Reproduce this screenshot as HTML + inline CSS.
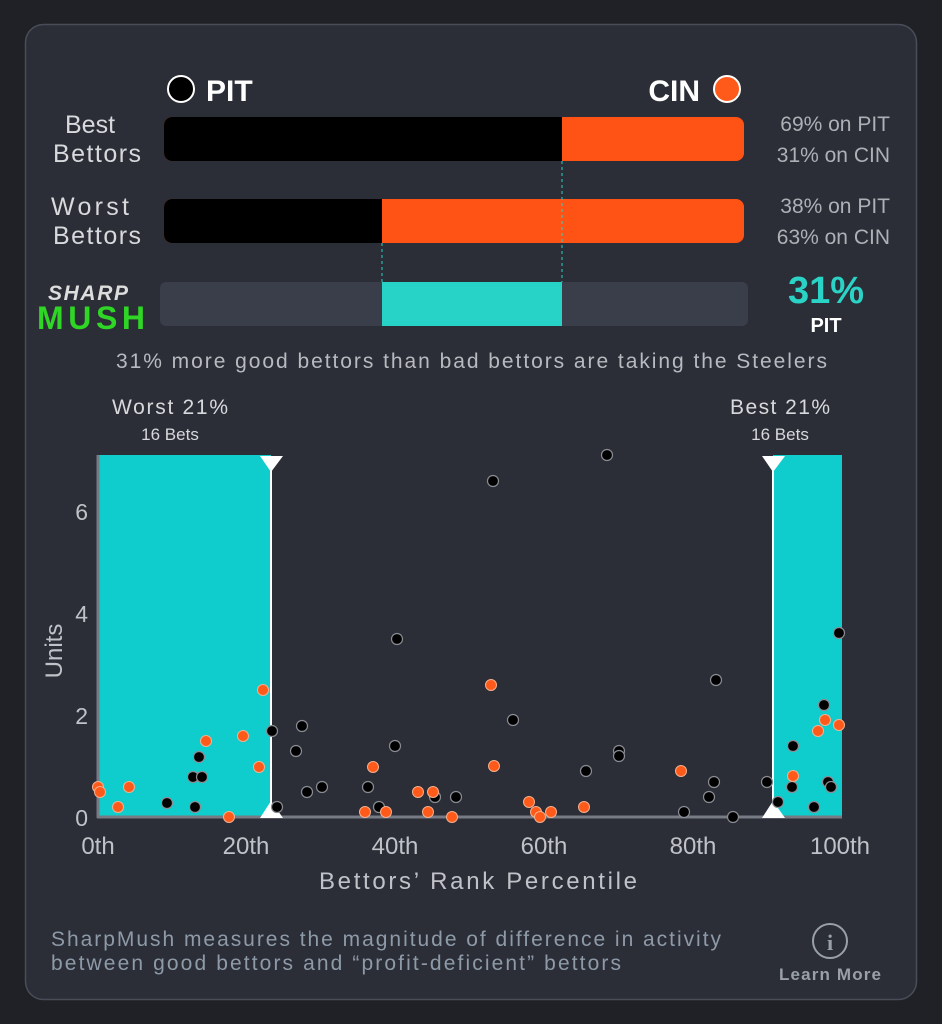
<!DOCTYPE html><html><head><meta charset="utf-8"><style>
body{margin:0;background:#1f2127;}
svg{display:block;font-family:"Liberation Sans",sans-serif;}
</style></head><body>
<svg width="942" height="1024" viewBox="0 0 942 1024">
<rect x="0" y="0" width="942" height="1024" fill="#1f2127"/>
<rect x="25.5" y="24.5" width="891" height="975" rx="18" fill="#2b2e37" stroke="#4a4d57" stroke-width="1.5"/>
<circle cx="181" cy="89" r="13" fill="#000" stroke="#fff" stroke-width="2"/>
<text x="206" y="101" font-size="30" font-weight="bold" fill="#fff">PIT</text>
<text x="700" y="101" font-size="30" font-weight="bold" fill="#fff" text-anchor="end">CIN</text>
<circle cx="727" cy="89" r="13" fill="#ff5a1a" stroke="#fff" stroke-width="2"/>
<text x="90" y="133" font-size="25" fill="#d8d9dc" text-anchor="middle">Best</text>
<text x="97" y="162" font-size="25" fill="#d8d9dc" text-anchor="middle" textLength="88">Bettors</text>
<text x="90" y="215" font-size="25" fill="#d8d9dc" text-anchor="middle" textLength="78">Worst</text>
<text x="97" y="244" font-size="25" fill="#d8d9dc" text-anchor="middle" textLength="88">Bettors</text>
<rect x="164" y="117" width="580" height="44" rx="8" fill="#ff5316"/>
<path d="M172 117H562V161H172A8 8 0 0 1 164 153V125A8 8 0 0 1 172 117Z" fill="#000"/>
<rect x="164" y="199" width="580" height="44" rx="8" fill="#ff5316"/>
<path d="M172 199H382V243H172A8 8 0 0 1 164 235V207A8 8 0 0 1 172 199Z" fill="#000"/>
<line x1="562" y1="161" x2="562" y2="282" stroke="#2ad3c5" stroke-dasharray="3,3"/>
<line x1="382" y1="243" x2="382" y2="282" stroke="#2ad3c5" stroke-dasharray="3,3"/>
<g font-size="21" fill="#aeb0b6" text-anchor="end">
<text x="890" y="131">69% on PIT</text><text x="890" y="162">31% on CIN</text>
<text x="890" y="213">38% on PIT</text><text x="890" y="244">63% on CIN</text></g>
<rect x="160" y="282" width="588" height="44" rx="6" fill="#3a3e4a"/>
<rect x="382" y="282" width="180" height="44" fill="#26d3c6"/>
<text x="88" y="300" font-size="21" font-weight="bold" font-style="italic" fill="#ddd" text-anchor="middle" textLength="80">SHARP</text>
<text x="91" y="329" font-size="32" font-weight="bold" fill="#2fd625" text-anchor="middle" textLength="108">MUSH</text>
<text x="826" y="303" font-size="38" font-weight="bold" fill="#2ad3c5" text-anchor="middle">31%</text>
<text x="826" y="332" font-size="20" font-weight="bold" fill="#fff" text-anchor="middle">PIT</text>
<text x="116" y="368" font-size="21" fill="#b8bac0" textLength="711">31% more good bettors than bad bettors are taking the Steelers</text>
<text x="170" y="414" font-size="21" fill="#d8d9dc" text-anchor="middle" textLength="116">Worst 21%</text>
<text x="170" y="440" font-size="17" fill="#d8d9dc" text-anchor="middle">16 Bets</text>
<text x="780" y="414" font-size="21" fill="#d8d9dc" text-anchor="middle" textLength="100">Best 21%</text>
<text x="780" y="440" font-size="17" fill="#d8d9dc" text-anchor="middle">16 Bets</text>
<rect x="98" y="455" width="173" height="362" fill="#0fcdcd"/>
<rect x="773" y="455" width="69" height="362" fill="#0fcdcd"/>
<line x1="98" y1="455" x2="98" y2="818" stroke="#777b84" stroke-width="3"/>
<line x1="97" y1="817" x2="842" y2="817" stroke="#777b84" stroke-width="3"/>
<line x1="271" y1="458" x2="271" y2="815" stroke="#fff" stroke-width="2"/>
<line x1="773" y1="458" x2="773" y2="815" stroke="#fff" stroke-width="2"/>
<polygon points="260,456 283,456 271,472" fill="#fff"/><polygon points="260,818 283,818 271,801" fill="#fff"/>
<polygon points="762,456 785,456 773,472" fill="#fff"/><polygon points="762,818 785,818 773,801" fill="#fff"/>
<g font-size="23" fill="#c0c2c8" text-anchor="end"><text x="88" y="826">0</text><text x="88" y="724">2</text><text x="88" y="622">4</text><text x="88" y="520">6</text></g>
<text transform="translate(62,651) rotate(-90)" font-size="24" fill="#c0c2c8" text-anchor="middle">Units</text>
<g font-size="24" fill="#c0c2c8" text-anchor="middle"><text x="98" y="854">0th</text><text x="246" y="854">20th</text><text x="395" y="854">40th</text><text x="544" y="854">60th</text><text x="693" y="854">80th</text><text x="840" y="854">100th</text></g>
<text x="478" y="889" font-size="24" fill="#c0c2c8" text-anchor="middle" textLength="318">Bettors’ Rank Percentile</text>
<g fill="#000" stroke="#8a8d94" stroke-width="1.2">
<circle cx="167" cy="803" r="5.5"/><circle cx="195" cy="807" r="5.5"/><circle cx="193" cy="777" r="5.5"/><circle cx="202" cy="777" r="5.5"/><circle cx="199" cy="757" r="5.5"/><circle cx="272" cy="731" r="5.5"/><circle cx="302" cy="726" r="5.5"/><circle cx="296" cy="751" r="5.5"/><circle cx="307" cy="792" r="5.5"/><circle cx="322" cy="787" r="5.5"/><circle cx="368" cy="787" r="5.5"/><circle cx="379" cy="807" r="5.5"/><circle cx="395" cy="746" r="5.5"/><circle cx="435" cy="797" r="5.5"/><circle cx="456" cy="797" r="5.5"/><circle cx="277" cy="807" r="5.5"/>
<circle cx="397" cy="639" r="5.5"/><circle cx="493" cy="481" r="5.5"/><circle cx="607" cy="455" r="5.5"/><circle cx="513" cy="720" r="5.5"/><circle cx="586" cy="771" r="5.5"/><circle cx="619" cy="751" r="5.5"/><circle cx="619" cy="756" r="5.5"/><circle cx="684" cy="812" r="5.5"/><circle cx="709" cy="797" r="5.5"/><circle cx="714" cy="782" r="5.5"/><circle cx="716" cy="680" r="5.5"/><circle cx="733" cy="817" r="5.5"/><circle cx="767" cy="782" r="5.5"/><circle cx="778" cy="802" r="5.5"/><circle cx="793" cy="746" r="5.5"/><circle cx="792" cy="787" r="5.5"/><circle cx="814" cy="807" r="5.5"/><circle cx="824" cy="705" r="5.5"/><circle cx="828" cy="782" r="5.5"/><circle cx="831" cy="787" r="5.5"/><circle cx="839" cy="633" r="5.5"/></g>
<g fill="#ff5a1a" stroke="#f5b08f" stroke-width="1">
<circle cx="98" cy="787" r="5.5"/><circle cx="100" cy="792" r="5.5"/><circle cx="118" cy="807" r="5.5"/><circle cx="129" cy="787" r="5.5"/><circle cx="206" cy="741" r="5.5"/><circle cx="243" cy="736" r="5.5"/><circle cx="259" cy="767" r="5.5"/><circle cx="263" cy="690" r="5.5"/><circle cx="229" cy="817" r="5.5"/><circle cx="365" cy="812" r="5.5"/><circle cx="373" cy="767" r="5.5"/><circle cx="386" cy="812" r="5.5"/><circle cx="418" cy="792" r="5.5"/><circle cx="433" cy="792" r="5.5"/><circle cx="428" cy="812" r="5.5"/><circle cx="452" cy="817" r="5.5"/>
<circle cx="491" cy="685" r="5.5"/><circle cx="494" cy="766" r="5.5"/><circle cx="529" cy="802" r="5.5"/><circle cx="536" cy="812" r="5.5"/><circle cx="540" cy="817" r="5.5"/><circle cx="551" cy="812" r="5.5"/><circle cx="584" cy="807" r="5.5"/><circle cx="681" cy="771" r="5.5"/><circle cx="793" cy="776" r="5.5"/><circle cx="818" cy="731" r="5.5"/><circle cx="825" cy="720" r="5.5"/><circle cx="839" cy="725" r="5.5"/></g>
<text x="51" y="946" font-size="21" fill="#8e9aa8" textLength="670">SharpMush measures the magnitude of difference in activity</text>
<text x="51" y="970" font-size="21" fill="#8e9aa8" textLength="570">between good bettors and “profit-deficient” bettors</text>
<circle cx="830" cy="941" r="17" fill="none" stroke="#9aa0a8" stroke-width="2"/>
<text x="830" y="950" font-size="22" font-weight="bold" fill="#9aa0a8" text-anchor="middle" font-family="Liberation Serif">i</text>
<text x="830" y="980" font-size="17" font-weight="bold" fill="#9aa0a8" text-anchor="middle" textLength="102">Learn More</text>
</svg></body></html>
